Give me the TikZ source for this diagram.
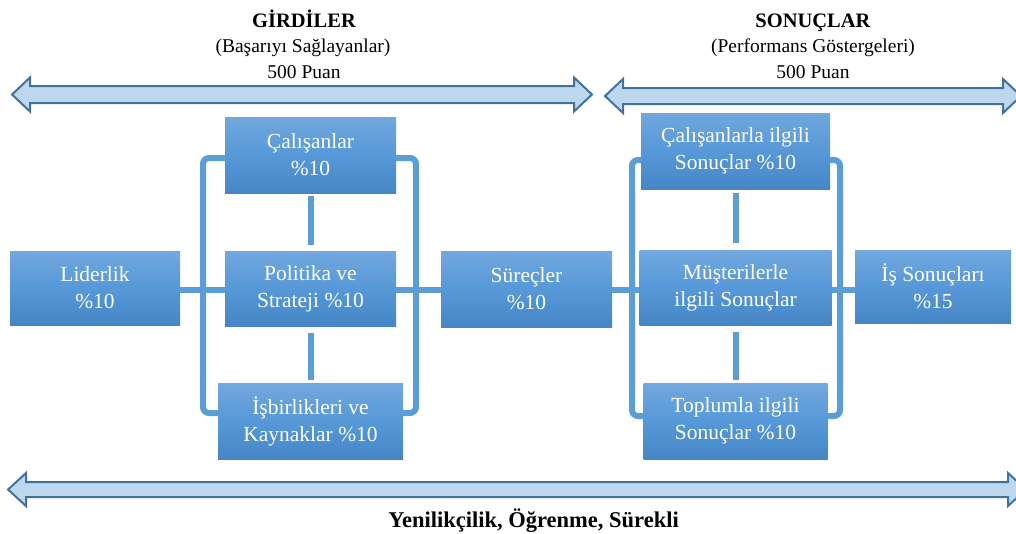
\documentclass[tikz,border=0pt]{standalone}
\usepackage{fontspec}
\setmainfont{Liberation Serif}
\pgfdeclarelayer{bg}
\pgfsetlayers{bg,main}
\definecolor{boxtop}{RGB}{114,168,222}
\definecolor{boxmid}{RGB}{86,152,216}
\definecolor{boxbot}{RGB}{70,134,198}
\definecolor{connc}{RGB}{91,157,214}
\definecolor{arrfill}{RGB}{189,215,238}
\definecolor{arrline}{RGB}{65,113,156}
\begin{document}
\begin{tikzpicture}[x=1pt,y=-1pt,
  box/.style={rectangle, top color=boxtop, bottom color=boxbot, middle color=boxmid,
    text=white, font=\fontsize{21.5}{27}\selectfont, align=center, inner sep=0pt},
  conn/.style={draw=connc, line width=6pt},
  arrowshape/.style={fill=arrfill, draw=arrline, line width=2pt, line join=miter},
  hdr/.style={anchor=base, inner sep=0pt, font=\bfseries\fontsize{20.5}{22}\selectfont},
  sub/.style={anchor=base, inner sep=0pt, font=\fontsize{19.5}{22}\selectfont}]
\useasboundingbox (0,0) rectangle (1016,533);
\clip (0,0) rectangle (1016,533);

% big arrows
\path[arrowshape] (12,94.5) -- (30,77.5) -- (30,86) -- (574,86) -- (574,77.5) -- (592,94.5)
  -- (574,111.5) -- (574,103) -- (30,103) -- (30,111.5) -- cycle;
\path[arrowshape] (605,96) -- (623,79) -- (623,88) -- (1003,88) -- (1003,79) -- (1021,96)
  -- (1003,113) -- (1003,104) -- (623,104) -- (623,113) -- cycle;
\path[arrowshape] (8,489.5) -- (26,473) -- (26,482) -- (1008,482) -- (1008,473) -- (1026,489.5)
  -- (1008,506) -- (1008,497) -- (26,497) -- (26,506) -- cycle;

% headers
\node[hdr] (g1) at (304,27) {GİRDİLER};
\node[sub] (g2) at (303,52) {(Başarıyı Sağlayanlar)};
\node[sub] (g3) at (304,78) {500 Puan};
\node[hdr] (s1) at (813,27) {SONUÇLAR};
\node[sub] (s2) at (813,52) {(Performans Göstergeleri)};
\node[sub] (s3) at (813,78) {500 Puan};
\node[anchor=base, inner sep=0pt, font=\bfseries\fontsize{22.5}{24}\selectfont] (bt) at (533.5,527) {Yenilikçilik, Öğrenme, Sürekli};

% boxes
\node[box, minimum width=170pt, minimum height=74pt] (lid) at (95,288) {Liderlik\\\%10};
\node[box, minimum width=171pt, minimum height=76pt] (cal) at (310.5,155) {Çalışanlar\\\%10};
\node[box, minimum width=171pt, minimum height=75pt] (pol) at (310.5,288.5) {Politika ve\\Strateji \%10};
\node[box, minimum width=185pt, minimum height=76pt] (isb) at (310.5,421) {İşbirlikleri ve\\Kaynaklar \%10};
\node[box, minimum width=171pt, minimum height=76pt] (sur) at (526.5,289) {Süreçler\\\%10};
\node[box, minimum width=189pt, minimum height=76pt] (cil) at (735.5,151) {Çalışanlarla ilgili\\Sonuçlar \%10};
\node[box, minimum width=192pt, minimum height=75pt] (mus) at (735.5,287.5) {Müşterilerle\\ilgili Sonuçlar};
\node[box, minimum width=184pt, minimum height=76pt] (top) at (735.5,421) {Toplumla ilgili\\Sonuçlar \%10};
\node[box, minimum width=156pt, minimum height=73pt] (iss) at (933,286.5) {İş Sonuçları\\\%15};

\coordinate (hl) at (0,290);
\coordinate (lt) at (203,158);
\coordinate (lb) at (203,413);
\coordinate (rt) at (416,158);
\coordinate (rb) at (416,413);
\coordinate (lt2) at (632,160);
\coordinate (lb2) at (632,416);
\coordinate (rt2) at (840,160);
\coordinate (rb2) at (840,416);

\begin{pgfonlayer}{bg}
\draw[conn] (lid.east |- hl) -- (pol.west |- hl);
\draw[conn] (pol.east |- hl) -- (sur.west |- hl);
\draw[conn] (sur.east |- hl) -- (mus.west |- hl);
\draw[conn] (mus.east |- hl) -- (iss.west |- hl);
\draw[conn, shorten <=3pt, shorten >=6pt] (cal.south) -- (cal.south |- pol.north);
\draw[conn, shorten <=7pt, shorten >=3pt] (pol.south) -- (pol.south |- isb.north);
\draw[conn, shorten <=4pt, shorten >=7pt] (cil.south) -- (cil.south |- mus.north);
\draw[conn, shorten <=7pt, shorten >=3pt] (mus.south) -- (mus.south |- top.north);
\draw[conn, rounded corners=6pt] (cal.west |- lt) -- (lt) -- (lb) -- (isb.west |- lb);
\draw[conn, rounded corners=6pt] (cal.east |- rt) -- (rt) -- (rb) -- (isb.east |- rb);
\draw[conn, rounded corners=6pt] (cil.west |- lt2) -- (lt2) -- (lb2) -- (top.west |- lb2);
\draw[conn, rounded corners=6pt] (cil.east |- rt2) -- (rt2) -- (rb2) -- (top.east |- rb2);
\end{pgfonlayer}
\end{tikzpicture}
\end{document}
